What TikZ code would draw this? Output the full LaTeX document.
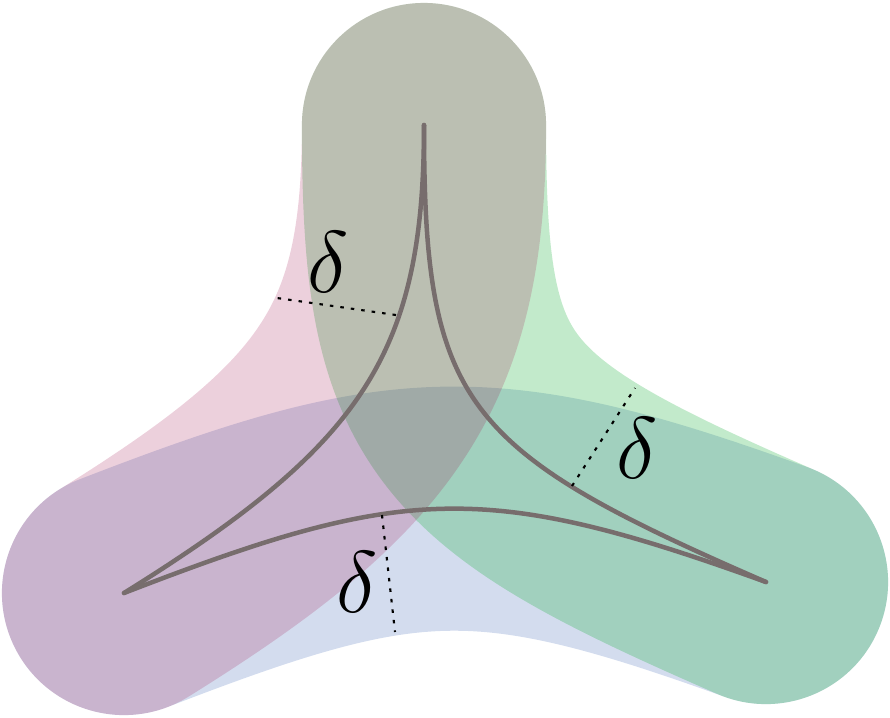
\documentclass[tikz,border=0pt]{standalone}
\definecolor{stripBlue}{RGB}{35,80,170}
\definecolor{stripGreen}{RGB}{11,171,47}
\definecolor{stripPink}{RGB}{160,20,80}
\definecolor{sideGray}{RGB}{119,109,109}
\begin{document}
\begin{tikzpicture}[x=0.01cm, y=-0.01cm, every node/.style={font=\Huge},
    strip/.style={line width=2.44cm, line cap=round, draw opacity=#1},
    side/.style={line width=0.045cm, line cap=round, draw=sideGray},
    deltaline/.style={line width=0.6pt, dash pattern=on 1pt off 2pt}]
    \useasboundingbox (0,0) rectangle (890,717);

    % --- ВЕРШИНЫ ТРЕУГОЛЬНИКА ---
    \coordinate (T) at (424,125);   % верхний касп
    \coordinate (L) at (124,593);   % левый касп
    \coordinate (R) at (766,582);   % правый касп

    % Управляющие точки сторон
    \coordinate (TL1) at (424,355);
    \coordinate (TL2) at (362,445);
    \coordinate (TR1) at (424,405);
    \coordinate (TR2) at (462,450);
    \coordinate (LR1) at (403,485);
    \coordinate (LR2) at (484,480);

    % --- ДЕЛЬТА-ОКРЕСТНОСТИ СТОРОН ---
    \draw[strip=0.2, stripBlue] (L) .. controls (LR1) and (LR2) .. (R);
    \draw[strip=0.25, stripGreen] (T) .. controls (TR1) and (TR2) .. (R);
    \draw[strip=0.2, stripPink] (T) .. controls (TL1) and (TL2) .. (L);

    % --- СТОРОНЫ ---
    \draw[side] (T) .. controls (TL1) and (TL2) .. (L);
    \draw[side] (T) .. controls (TR1) and (TR2) .. (R);
    \draw[side] (L) .. controls (LR1) and (LR2) .. (R);

    % --- ОТРЕЗКИ ДЛИНЫ DELTA ---
    \coordinate (dL1) at (396,315);
    \coordinate (dL2) at (277,298);
    \coordinate (dR1) at (572,486);
    \coordinate (dR2) at (635,388);
    \coordinate (dB1) at (382,515);
    \coordinate (dB2) at (395,632);
    \draw[deltaline] (dL1) -- (dL2);
    \draw[deltaline] (dR1) -- (dR2);
    \draw[deltaline] (dB1) -- (dB2);

    \node (deltaL) at (328,262) {$\delta$};
    \node (deltaR) at (637,448) {$\delta$};
    \node (deltaB) at (357,582) {$\delta$};
\end{tikzpicture}
\end{document}
